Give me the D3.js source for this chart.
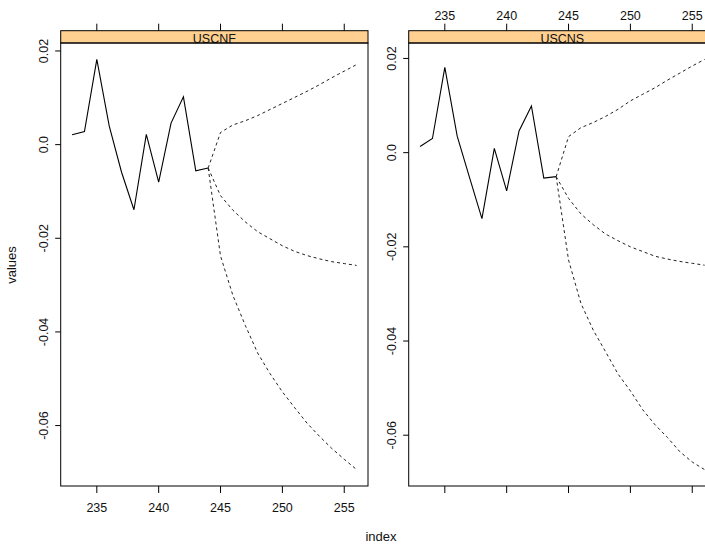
<!DOCTYPE html>
<html>
<head>
<meta charset="utf-8">
<script src="https://cdn.jsdelivr.net/npm/d3@7"></script>
<style>
  html, body { margin: 0; padding: 0; background: #fff; }
  svg { display: block; font-family: "Liberation Sans", Arial, Helvetica, sans-serif; }
</style>
</head>
<body>
<svg id="chart" width="705" height="544"></svg>
<script>
// observed index and forecast index
var obsIndex = [233, 234, 235, 236, 237, 238, 239, 240, 241, 242, 243, 244];
var fcIndex = [244, 245, 246, 247, 248, 249, 250, 251, 252, 253, 254, 255, 256];
var panelNames = ["USCNF", "USCNS"];
var xTicks = [235, 240, 245, 250, 255];
var yTicks = [0.02, 0.0, -0.02, -0.04, -0.06];
var yTickLabels = ["0.02", "0.0", "-0.02", "-0.04", "-0.06"];

// USCNF
var uscnfObs = [0.0021, 0.0028, 0.0182, 0.0040, -0.0059, -0.0139, 0.0022, -0.0080, 0.0046, 0.0102, -0.0056, -0.0050];
var uscnfUpper = [-0.0050, 0.0026, 0.0042, 0.0051, 0.0062, 0.0075, 0.0088, 0.0101, 0.0114, 0.0128, 0.0143, 0.0157, 0.0171];
var uscnfMid = [-0.0050, -0.0109, -0.0140, -0.0165, -0.0186, -0.0201, -0.0216, -0.0228, -0.0237, -0.0244, -0.0250, -0.0254, -0.0258];
var uscnfLower = [-0.0050, -0.0238, -0.0322, -0.0386, -0.0445, -0.0489, -0.0528, -0.0562, -0.0595, -0.0623, -0.0649, -0.0672, -0.0694];

// USCNS
var uscnsObs = [0.0013, 0.0030, 0.0181, 0.0035, -0.0053, -0.0140, 0.0009, -0.0081, 0.0046, 0.0099, -0.0054, -0.0051];
var uscnsUpper = [-0.0051, 0.0034, 0.0053, 0.0064, 0.0077, 0.0092, 0.0110, 0.0124, 0.0138, 0.0154, 0.0169, 0.0184, 0.0198];
var uscnsMid = [-0.0051, -0.0097, -0.0130, -0.0153, -0.0173, -0.0187, -0.0200, -0.0210, -0.0220, -0.0226, -0.0231, -0.0235, -0.0239];
var uscnsLower = [-0.0051, -0.0228, -0.0320, -0.0377, -0.0423, -0.0470, -0.0506, -0.0546, -0.0578, -0.0605, -0.0635, -0.0657, -0.0673];

var svg = d3.select("#chart");
var panelW = 307.3;
var panelTop = 43, panelBottom = 486, stripH = 12.3;

var panels = [
    { name: panelNames[0], left: 60.7, obs: uscnfObs, fc: [uscnfUpper, uscnfMid, uscnfLower], topLabels: false },
    { name: panelNames[1], left: 408.7, obs: uscnsObs, fc: [uscnsUpper, uscnsMid, uscnsLower], topLabels: true }
];

// lattice style 4% padding
function padded(ext) {
    var d = (ext[1] - ext[0]) * 0.04;
    return [ext[0] - d, ext[1] + d];
}

var xDom = padded([d3.min(obsIndex), d3.max(fcIndex)]);

panels.forEach(function(p, k) {
    var all = p.obs.concat(p.fc[0], p.fc[1], p.fc[2]);
    var yDom = padded(d3.extent(all));
    var x = d3.scaleLinear().domain(xDom).range([p.left, p.left + panelW]);
    var y = d3.scaleLinear().domain(yDom).range([panelBottom, panelTop]);
    var g = svg.append("g");

    // strip (label is cut by the strip's lower edge, as in the original)
    var clipId = "strip" + k;
    svg.append("clipPath").attr("id", clipId)
        .append("rect").attr("x", p.left).attr("y", panelTop - stripH).attr("width", panelW).attr("height", stripH);
    g.append("rect").attr("x", p.left).attr("y", panelTop - stripH).attr("width", panelW).attr("height", stripH)
        .attr("fill", "#ffd08f");
    g.append("text").attr("clip-path", "url(#" + clipId + ")")
        .attr("x", p.left + panelW / 2).attr("y", panelTop + 0.3)
        .attr("text-anchor", "middle").attr("font-size", 12.5).attr("fill", "#111")
        .text(p.name);
    g.append("rect").attr("x", p.left).attr("y", panelTop - stripH).attr("width", panelW).attr("height", stripH)
        .attr("fill", "none").attr("stroke", "#000").attr("stroke-width", 1);

    // panel box
    g.append("rect").attr("x", p.left).attr("y", panelTop).attr("width", panelW).attr("height", panelBottom - panelTop)
        .attr("fill", "none").attr("stroke", "#000").attr("stroke-width", 1);

    // bottom ticks
    g.selectAll(".bt").data(xTicks).enter().append("line")
        .attr("x1", function(d) { return x(d); }).attr("x2", function(d) { return x(d); })
        .attr("y1", panelBottom).attr("y2", panelBottom + 7).attr("stroke", "#000");
    // top ticks
    g.selectAll(".tt").data(xTicks).enter().append("line")
        .attr("x1", function(d) { return x(d); }).attr("x2", function(d) { return x(d); })
        .attr("y1", panelTop - stripH).attr("y2", panelTop - stripH - 7).attr("stroke", "#000");

    if (p.topLabels) {
        g.selectAll(".tl").data(xTicks).enter().append("text")
            .attr("x", function(d) { return x(d); }).attr("y", 19.5)
            .attr("text-anchor", "middle").attr("font-size", 12.5).attr("fill", "#111")
            .text(function(d) { return d; });
    } else {
        g.selectAll(".bl").data(xTicks).enter().append("text")
            .attr("x", function(d) { return x(d); }).attr("y", 512)
            .attr("text-anchor", "middle").attr("font-size", 12.5).attr("fill", "#111")
            .text(function(d) { return d; });
    }

    // y ticks + labels
    g.selectAll(".yt").data(yTicks).enter().append("line")
        .attr("x1", p.left - 5.5).attr("x2", p.left)
        .attr("y1", function(d) { return y(d); }).attr("y2", function(d) { return y(d); })
        .attr("stroke", "#000");
    g.selectAll(".yl").data(yTicks).enter().append("text")
        .attr("transform", function(d) { return "translate(" + (p.left - 13) + "," + y(d) + ") rotate(-90)"; })
        .attr("text-anchor", "middle").attr("font-size", 12.5).attr("fill", "#111")
        .text(function(d, i) { return yTickLabels[i]; });

    // lines
    var line = d3.line().x(function(d) { return x(d[0]); }).y(function(d) { return y(d[1]); });
    g.append("path").datum(d3.zip(obsIndex, p.obs)).attr("d", line)
        .attr("fill", "none").attr("stroke", "#000").attr("stroke-width", 1.1);
    p.fc.forEach(function(s) {
        g.append("path").datum(d3.zip(fcIndex, s)).attr("d", line)
            .attr("fill", "none").attr("stroke", "#222").attr("stroke-width", 1)
            .attr("stroke-dasharray", "3,3");
    });
});

// axis titles
svg.append("text").attr("transform", "translate(16,265) rotate(-90)")
    .attr("text-anchor", "middle").attr("font-size", 13).attr("fill", "#111").text("values");
svg.append("text").attr("x", 381).attr("y", 541)
    .attr("text-anchor", "middle").attr("font-size", 13).attr("fill", "#111").text("index");
</script>
</body>
</html>
